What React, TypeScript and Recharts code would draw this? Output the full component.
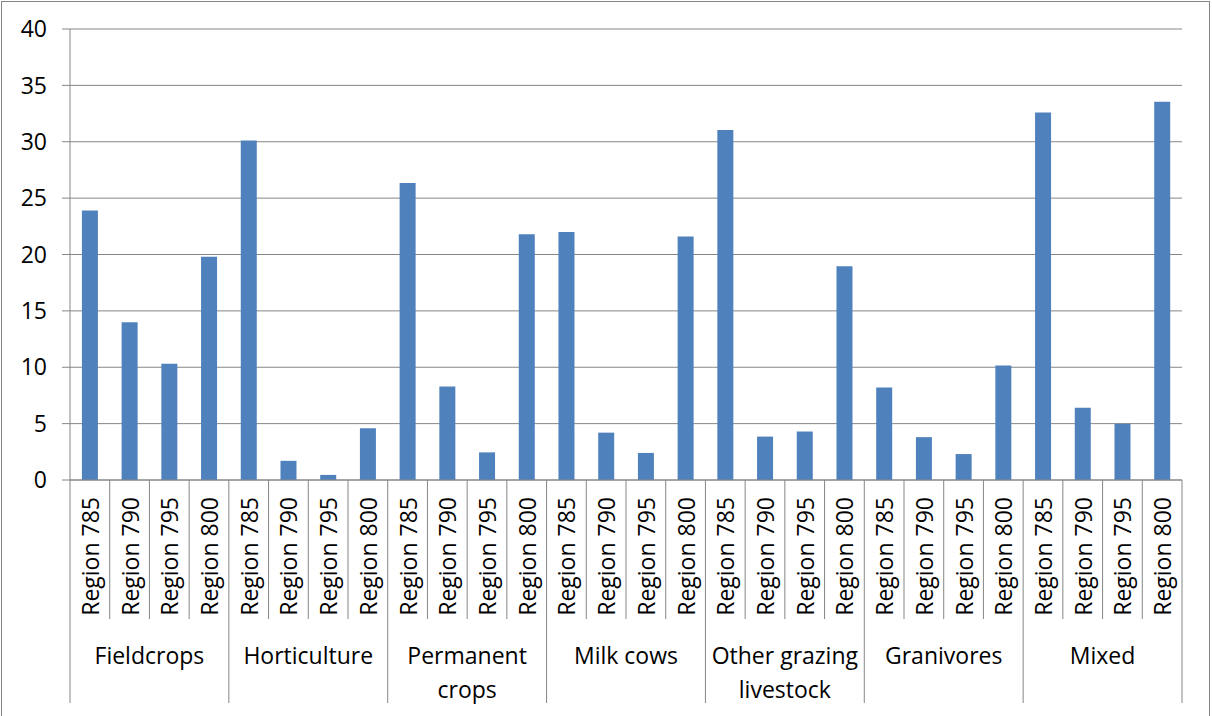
import React from 'react';
import { BarChart, Bar, XAxis, YAxis, CartesianGrid } from 'recharts';

const categories = ['Fieldcrops', 'Horticulture', 'Permanent crops', 'Milk cows', 'Other grazing livestock', 'Granivores', 'Mixed'];
const categoryLines = [['Fieldcrops'], ['Horticulture'], ['Permanent', 'crops'], ['Milk cows'], ['Other grazing', 'livestock'], ['Granivores'], ['Mixed']];
const regions = ['Region 785', 'Region 790', 'Region 795', 'Region 800'];

const fieldcrops = [23.9, 14.0, 10.3, 19.8];
const horticulture = [30.1, 1.7, 0.45, 4.6];
const permanentCrops = [26.35, 8.3, 2.45, 21.8];
const milkCows = [22.0, 4.2, 2.4, 21.6];
const otherGrazing = [31.05, 3.85, 4.3, 18.95];
const granivores = [8.2, 3.8, 2.3, 10.15];
const mixed = [32.6, 6.4, 5.0, 33.55];

const yTicks = [0, 5, 10, 15, 20, 25, 30, 35, 40];

const seriesByCategory = [fieldcrops, horticulture, permanentCrops, milkCows, otherGrazing, granivores, mixed];

const data = categories.flatMap((cat, ci) =>
  regions.map((r, ri) => ({ key: `${cat}|${r}`, region: r, group: ci, value: seriesByCategory[ci][ri] }))
);

const W = 1212;
const H = 716;
const LEFT = 70;
const RIGHT = 30;
const TOP = 29;
const XAXIS_H = 236;
const AXIS_Y = H - XAXIS_H;
const SLOT = (W - LEFT - RIGHT) / data.length;
const GRAY = '#868686';
const FONT = "'Open Sans', sans-serif";
const FS = 23;

const RegionTick = (props: any) => {
  const { x, payload } = props;
  const index = payload.index ?? props.index;
  const d = data[index];
  const left = x - SLOT / 2;
  const isGroupStart = index % regions.length === 0;
  const isLast = index === data.length - 1;
  const els: any[] = [];
  els.push(
    <line key="l" x1={left} x2={left} y1={AXIS_Y} y2={isGroupStart ? 703 : 619} stroke={GRAY} strokeWidth={1} />
  );
  if (isLast) {
    els.push(<line key="r" x1={x + SLOT / 2} x2={x + SLOT / 2} y1={AXIS_Y} y2={703} stroke={GRAY} strokeWidth={1} />);
  }
  els.push(
    <g key="t" transform={`translate(${x},${497}) rotate(-90)`}>
      <text x={0} y={0} textAnchor="end" dominantBaseline="central" fontSize={FS} fontFamily={FONT} fill="#000">
        {d.region}
      </text>
    </g>
  );
  if (isGroupStart) {
    const cx = left + (SLOT * regions.length) / 2;
    const lines = categoryLines[d.group];
    lines.forEach((ln, li) => {
      els.push(
        <text key={`g${li}`} x={cx} y={655 + li * 34} textAnchor="middle" dominantBaseline="central" fontSize={FS} fontFamily={FONT} fill="#000">
          {ln}
        </text>
      );
    });
  }
  return <g>{els}</g>;
};

export default function App() {
  return (
    <div style={{ position: 'absolute', left: 0, top: 0, width: W, height: H, background: '#fff', fontFamily: FONT }}>
      <div style={{ position: 'absolute', left: 1, top: 1, width: 1209, height: 720, border: `1px solid ${GRAY}`, boxSizing: 'border-box' }} />
      <BarChart width={W} height={H} data={data} margin={{ top: TOP, right: RIGHT, bottom: 0, left: 0 }} barCategoryGap="30%">
        <CartesianGrid vertical={false} stroke={GRAY} strokeWidth={1} />
        <YAxis
          domain={[0, 40]}
          ticks={yTicks}
          interval={0}
          width={LEFT}
          axisLine={{ stroke: GRAY }}
          tickLine={{ stroke: GRAY }}
          tickSize={8}
          tickMargin={15}
          tick={{ fontSize: FS, fontFamily: FONT, fill: '#000' }}
        />
        <XAxis
          dataKey="key"
          interval={0}
          height={XAXIS_H}
          axisLine={{ stroke: GRAY }}
          tickLine={false}
          tick={(p: any) => <RegionTick {...p} />}
        />
        <Bar dataKey="value" fill="#4F81BD" isAnimationActive={false} />
      </BarChart>
    </div>
  );
}
